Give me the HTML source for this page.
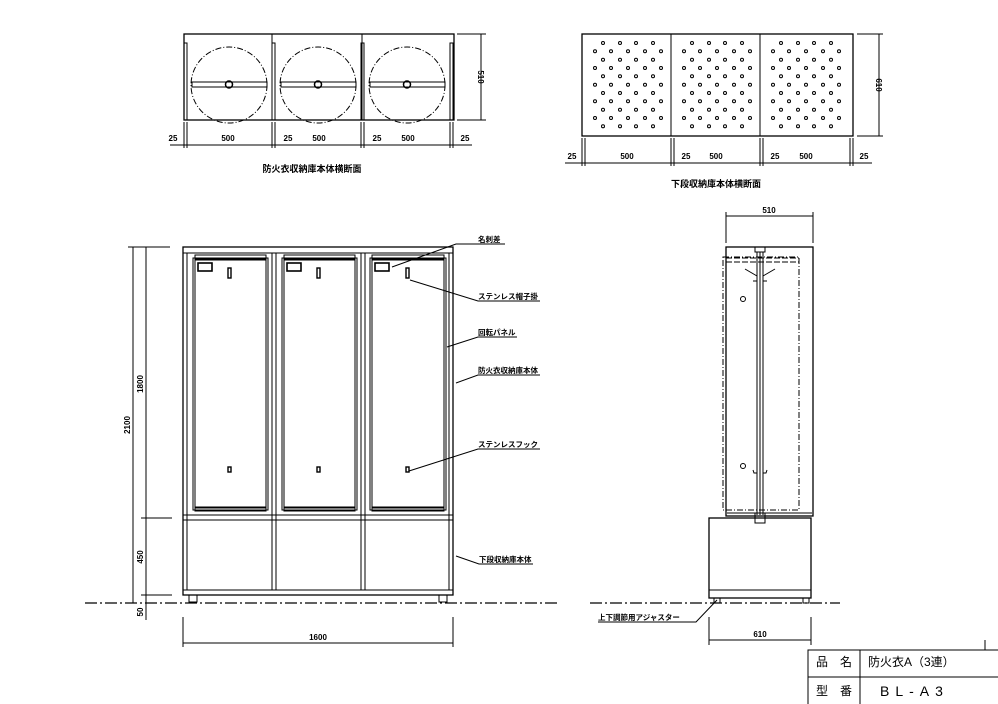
<!DOCTYPE html>
<html><head><meta charset="utf-8"><style>
html,body{margin:0;padding:0;background:#fff;}
svg{display:block;}
text{font-family:"Liberation Sans","Noto Sans CJK JP",sans-serif;font-weight:bold;fill:#000;}
</style></head><body>
<svg width="998" height="704" viewBox="0 0 998 704" xmlns="http://www.w3.org/2000/svg">
<defs>
<g id="r4" fill="none" stroke="#000" stroke-width="1"><circle cx="603" cy="0" r="1.5"/><circle cx="620" cy="0" r="1.5"/><circle cx="636" cy="0" r="1.5"/><circle cx="653" cy="0" r="1.5"/></g>
<g id="r5" fill="none" stroke="#000" stroke-width="1"><circle cx="595" cy="0" r="1.5"/><circle cx="611" cy="0" r="1.5"/><circle cx="628" cy="0" r="1.5"/><circle cx="645" cy="0" r="1.5"/><circle cx="661" cy="0" r="1.5"/></g>
<g id="pd">
<use href="#r4" y="43"/><use href="#r5" y="51.3"/><use href="#r4" y="59.7"/><use href="#r5" y="68"/><use href="#r4" y="76.3"/><use href="#r5" y="84.7"/><use href="#r4" y="93"/><use href="#r5" y="101.3"/><use href="#r4" y="109.7"/><use href="#r5" y="118"/><use href="#r4" y="126.3"/>
</g>
</defs>
<g fill="none" stroke="#000" stroke-width="1">
<!-- top-left plan -->
<rect x="184" y="34" width="270" height="86" stroke-width="1.3"/>
<line x1="272" y1="34" x2="272" y2="120"/><line x1="362" y1="34" x2="362" y2="120"/>
<g stroke-dasharray="6,2,1,2">
<circle cx="229" cy="85" r="38"/><circle cx="318" cy="85" r="38"/><circle cx="407" cy="85" r="38"/>
</g>
<rect x="192" y="82" width="75" height="5"/><rect x="281" y="82" width="75" height="5"/><rect x="370" y="82" width="75" height="5"/>
<circle cx="229" cy="84.5" r="3.5" stroke-width="1.5"/><circle cx="318" cy="84.5" r="3.5" stroke-width="1.5"/><circle cx="407" cy="84.5" r="3.5" stroke-width="1.5"/>
<rect x="184" y="43" width="3" height="77"/><rect x="272" y="43" width="3" height="77"/><rect x="361" y="43" width="3" height="77"/><rect x="450" y="43" width="3" height="77"/>
<line x1="457" y1="34" x2="486" y2="34"/><line x1="457" y1="120" x2="486" y2="120"/><line x1="481" y1="34" x2="481" y2="120"/>
<line x1="170" y1="145" x2="472" y2="145"/>
<g><line x1="184" y1="122" x2="184" y2="148"/><line x1="187" y1="122" x2="187" y2="148"/><line x1="272" y1="122" x2="272" y2="148"/><line x1="275" y1="122" x2="275" y2="148"/><line x1="361" y1="122" x2="361" y2="148"/><line x1="364" y1="122" x2="364" y2="148"/><line x1="450" y1="122" x2="450" y2="148"/><line x1="453" y1="122" x2="453" y2="148"/></g>
<!-- top-right plan -->
<rect x="582" y="34" width="271" height="102" stroke-width="1.3"/>
<line x1="671" y1="34" x2="671" y2="136"/><line x1="760" y1="34" x2="760" y2="136"/>
<line x1="857" y1="34" x2="883" y2="34"/><line x1="857" y1="136" x2="883" y2="136"/><line x1="879" y1="34" x2="879" y2="136"/>
<line x1="565" y1="163" x2="872" y2="163"/>
<g><line x1="582" y1="138" x2="582" y2="166"/><line x1="585" y1="138" x2="585" y2="166"/><line x1="671" y1="138" x2="671" y2="166"/><line x1="674" y1="138" x2="674" y2="166"/><line x1="760" y1="138" x2="760" y2="166"/><line x1="763" y1="138" x2="763" y2="166"/><line x1="850" y1="138" x2="850" y2="166"/><line x1="853" y1="138" x2="853" y2="166"/></g>
<!-- front elevation -->
<rect x="183" y="247" width="270" height="348" stroke-width="1.3"/>
<line x1="183" y1="253" x2="453" y2="253"/>
<line x1="187" y1="253" x2="187" y2="590"/><line x1="449" y1="253" x2="449" y2="590"/>
<line x1="272" y1="253" x2="272" y2="590"/><line x1="276" y1="253" x2="276" y2="590"/>
<line x1="361" y1="253" x2="361" y2="590"/><line x1="365" y1="253" x2="365" y2="590"/>
<line x1="183" y1="515" x2="453" y2="515"/><line x1="183" y1="520" x2="453" y2="520"/>
<line x1="183" y1="590" x2="453" y2="590"/>
<rect x="193" y="258" width="75" height="252"/><rect x="195" y="260" width="71" height="248"/>
<rect x="282" y="258" width="75" height="252"/><rect x="284" y="260" width="71" height="248"/>
<rect x="370" y="258" width="76" height="252"/><rect x="372" y="260" width="72" height="248"/>
<rect x="195" y="255" width="71" height="4"/><rect x="284" y="255" width="71" height="4"/><rect x="372" y="255" width="72" height="4"/>
<rect x="195" y="507" width="71" height="4"/><rect x="284" y="507" width="71" height="4"/><rect x="372" y="507" width="72" height="4"/>
<rect x="198" y="263" width="14" height="8" stroke-width="1.6"/><rect x="287" y="263" width="14" height="8" stroke-width="1.6"/><rect x="375" y="263" width="14" height="8" stroke-width="1.6"/>
<rect x="228" y="268" width="3" height="10" stroke-width="1.4"/><rect x="317" y="268" width="3" height="10" stroke-width="1.4"/><rect x="406" y="268" width="3" height="10" stroke-width="1.4"/>
<rect x="228" y="467" width="3" height="5" stroke-width="1.4"/><rect x="317" y="467" width="3" height="5" stroke-width="1.4"/><rect x="406" y="467" width="3" height="5" stroke-width="1.4"/>
<rect x="189" y="595" width="8" height="7"/><rect x="439" y="595" width="8" height="7"/>
<line x1="85" y1="603" x2="560" y2="603" stroke-dasharray="12,3,2,3" stroke-width="1.3"/>
<!-- front dims -->
<line x1="133" y1="247" x2="133" y2="603"/><line x1="146" y1="247" x2="146" y2="620"/>
<line x1="128" y1="247" x2="170" y2="247"/><line x1="141" y1="518" x2="172" y2="518"/><line x1="141" y1="595" x2="172" y2="595"/>
<line x1="183" y1="617" x2="183" y2="647"/><line x1="453" y1="617" x2="453" y2="647"/><line x1="183" y1="643" x2="453" y2="643"/>
<!-- leaders -->
<polyline points="392,267 456,244 505,244"/>
<polyline points="410,280 478,301 540,301"/>
<polyline points="447,347 478,337 517,337"/>
<polyline points="456,383 478,375 540,375"/>
<polyline points="409,471 478,449 540,449"/>
<polyline points="456,556 479,564 533,564"/>
<polyline points="717,600 696,622 598,622"/>
<!-- side view -->
<rect x="726" y="247" width="87" height="269" stroke-width="1.3"/>
<rect x="723" y="257" width="76" height="253" stroke-dasharray="6,2,1,2"/>
<line x1="726" y1="258" x2="799" y2="258" stroke-dasharray="6,2"/><line x1="726" y1="262" x2="799" y2="262" stroke-dasharray="6,2"/>
<line x1="757" y1="252" x2="757" y2="515"/><line x1="763" y1="252" x2="763" y2="515"/><line x1="760" y1="252" x2="760" y2="515"/>
<rect x="755" y="247" width="10" height="5"/>
<path d="M745 269 L757 276 M775 269 L763 276 M753 281 L757 281 M763 281 L767 281"/>
<path d="M753 470 L754 473 L757 473 M767 470 L766 473 L763 473"/>
<circle cx="743" cy="299" r="2.5"/><circle cx="743" cy="466" r="2.5"/>
<line x1="727" y1="513" x2="812" y2="513"/>
<rect x="755" y="513" width="10" height="10"/>
<rect x="709" y="518" width="102" height="80" stroke-width="1.3"/>
<line x1="709" y1="590" x2="811" y2="590"/>
<rect x="714" y="598" width="6" height="5"/><rect x="803" y="598" width="6" height="5"/>
<line x1="590" y1="603" x2="840" y2="603" stroke-dasharray="12,3,2,3" stroke-width="1.3"/>
<line x1="726" y1="212" x2="726" y2="243"/><line x1="813" y1="212" x2="813" y2="243"/><line x1="726" y1="216" x2="813" y2="216"/>
<line x1="709" y1="617" x2="709" y2="645"/><line x1="811" y1="617" x2="811" y2="645"/><line x1="709" y1="640" x2="811" y2="640"/>
<!-- title block -->
<polyline points="808,704 808,650 998,650"/>
<line x1="808" y1="677" x2="998" y2="677"/><line x1="860" y1="650" x2="860" y2="704"/>
<line x1="985" y1="640" x2="985" y2="650"/>
</g>
<use href="#pd"/>
<use href="#pd" x="89"/>
<use href="#pd" x="178"/>
<g font-size="8" text-anchor="middle">
<text x="173" y="141">25</text><text x="228" y="141">500</text><text x="288" y="141">25</text><text x="319" y="141">500</text><text x="377" y="141">25</text><text x="408" y="141">500</text><text x="465" y="141">25</text>
<text x="572" y="159">25</text><text x="627" y="159">500</text><text x="686" y="159">25</text><text x="716" y="159">500</text><text x="775" y="159">25</text><text x="806" y="159">500</text><text x="864" y="159">25</text>
<text transform="translate(478,77) rotate(90)">510</text>
<text transform="translate(876,85) rotate(90)">610</text>
<text x="312" y="172" font-size="9">防火衣収納庫本体横断面</text>
<text x="716" y="187" font-size="9">下段収納庫本体横断面</text>
<text transform="translate(130,425) rotate(-90)">2100</text>
<text transform="translate(143,384) rotate(-90)">1800</text>
<text transform="translate(143,557) rotate(-90)">450</text>
<text transform="translate(143,612) rotate(-90)">50</text>
<text x="318" y="640">1600</text>
<text x="769" y="213">510</text>
<text x="760" y="637">610</text>
</g>
<g font-size="7.5">
<text x="478" y="242">名刺差</text>
<text x="478" y="299">ステンレス帽子掛</text>
<text x="478" y="335">回転パネル</text>
<text x="478" y="373">防火衣収納庫本体</text>
<text x="478" y="447">ステンレスフック</text>
<text x="479" y="562">下段収納庫本体</text>
<text x="598" y="620">上下調節用アジャスター</text>
</g>
<g font-size="12">
<text x="816" y="666" style="font-weight:normal">品　名</text>
<text x="868" y="666" style="font-weight:normal">防火衣A（3連）</text>
<text x="816" y="695" style="font-weight:normal">型　番</text>
<text x="880" y="696" style="font-weight:normal;letter-spacing:6px" font-size="14">BL-A3</text>
</g>
</svg>
</body></html>
